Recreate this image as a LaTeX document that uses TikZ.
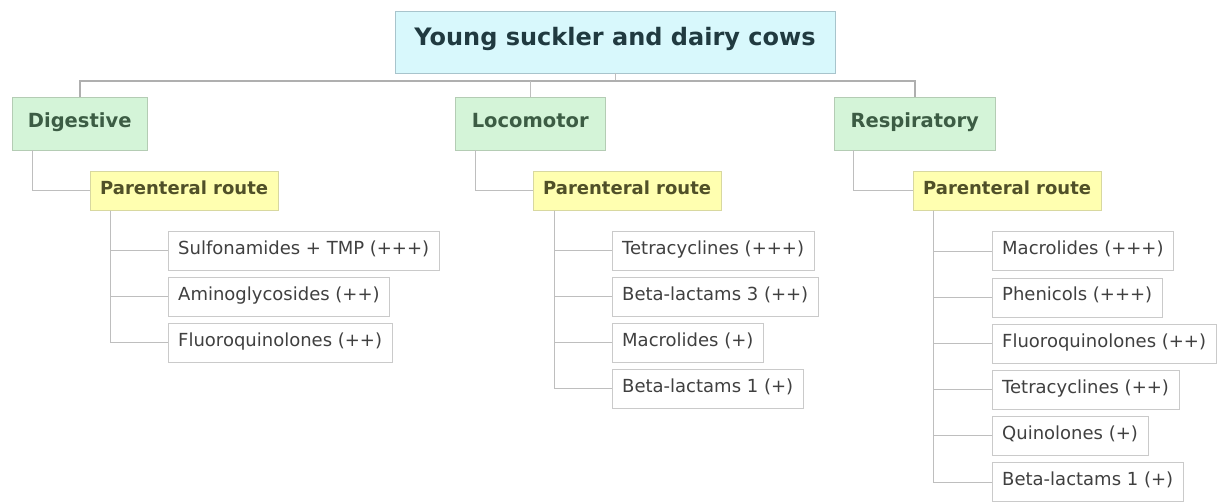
\documentclass[tikz,border=0pt]{standalone}
\usepackage{fontspec}
\setmainfont{DejaVu Sans}
\usepackage{tikz}
\usetikzlibrary{positioning}

\definecolor{rootfill}{HTML}{D8F8FC}
\definecolor{rootline}{HTML}{A8C4CC}
\definecolor{roottext}{HTML}{203A40}
\definecolor{sysfill}{HTML}{D4F4D8}
\definecolor{sysline}{HTML}{B4CCB4}
\definecolor{systext}{HTML}{3C5C44}
\definecolor{routefill}{HTML}{FFFFB0}
\definecolor{routeline}{HTML}{D8D8A0}
\definecolor{routetext}{HTML}{505028}
\definecolor{drugline}{HTML}{CACACA}
\definecolor{drugtext}{HTML}{404040}
\definecolor{linkgray}{HTML}{BEBEBE}

\begin{document}
\begin{tikzpicture}[x=1pt,y=-1pt,
                    box/.style={text height=0.95em,text depth=0.23em},
                    root/.style={box,draw=rootline,fill=rootfill,text=roottext,minimum width=440,minimum height=62,
                                 font=\bfseries\fontsize{24}{28}\selectfont},
                    system/.style={box,draw=sysline,fill=sysfill,text=systext,minimum height=53,anchor=north west,
                                   font=\bfseries\fontsize{19.5}{23}\selectfont},
                    route/.style={box,draw=routeline,fill=routefill,text=routetext,minimum height=39,inner xsep=10,
                                  anchor=west,font=\bfseries\fontsize{18}{22}\selectfont},
                    drug/.style={box,draw=drugline,fill=white,text=drugtext,minimum height=39,inner xsep=10,
                                 anchor=west,font=\fontsize{18}{22}\selectfont},
                    link/.style={draw=linkgray,line width=1},
                    bar/.style={draw=linkgray!92!black,line width=1.8}
                ]
                    \useasboundingbox (0,0) rectangle (1227,502);
                    \node[root] (cows) at (615,42) {Young suckler and dairy cows};
                    \node[system,minimum width=135] (dig) at (12,97) {Digestive};
                    \node[system,minimum width=150] (loc) at (455,97) {Locomotor};
                    \node[system,minimum width=161] (resp) at (834,97) {Respiratory};
                    \coordinate (hub) at ([yshift=-8]cows.south);
                    \draw[link] (cows.south) -- (hub);
                    \draw[bar] (dig.north) |- (hub) -| (resp.north);
                    \draw[link] (loc.north) -- (loc.north |- hub);
                    \node[route] (digroute) at (90,191) {Parenteral route};
                    \node[route] (locroute) at (533,191) {Parenteral route};
                    \node[route] (resproute) at (913,191) {Parenteral route};
                    \draw[link] ([xshift=20]dig.south west) |- (digroute.west);
                    \draw[link] ([xshift=20]loc.south west) |- (locroute.west);
                    \draw[link] ([xshift=19]resp.south west) |- (resproute.west);
                    \foreach \t [count=\i] in {Sulfonamides + TMP (+++),Aminoglycosides (++),Fluoroquinolones (++)}
                        {
                        \node[drug] (dig\i) at (168,{205+46*\i}) {\t};
                        \draw[link] ([xshift=20]digroute.south west) |- (dig\i.west);
                    }
                    \foreach \t [count=\i] in {Tetracyclines (+++),Beta-lactams 3 (++),Macrolides (+),Beta-lactams 1 (+)}
                        {
                        \node[drug] (loc\i) at (612,{205+46*\i}) {\t};
                        \draw[link] ([xshift=21]locroute.south west) |- (loc\i.west);
                    }
                    \foreach \t [count=\i] in {Macrolides (+++),Phenicols (+++),Fluoroquinolones (++),Tetracyclines (++),Quinolones (+),Beta-lactams 1 (+)}
                        {
                        \node[drug] (resp\i) at (992,{205+46.2*\i}) {\t};
                        \draw[link] ([xshift=20]resproute.south west) |- (resp\i.west);
                    }
                \end{tikzpicture}
\end{document}
